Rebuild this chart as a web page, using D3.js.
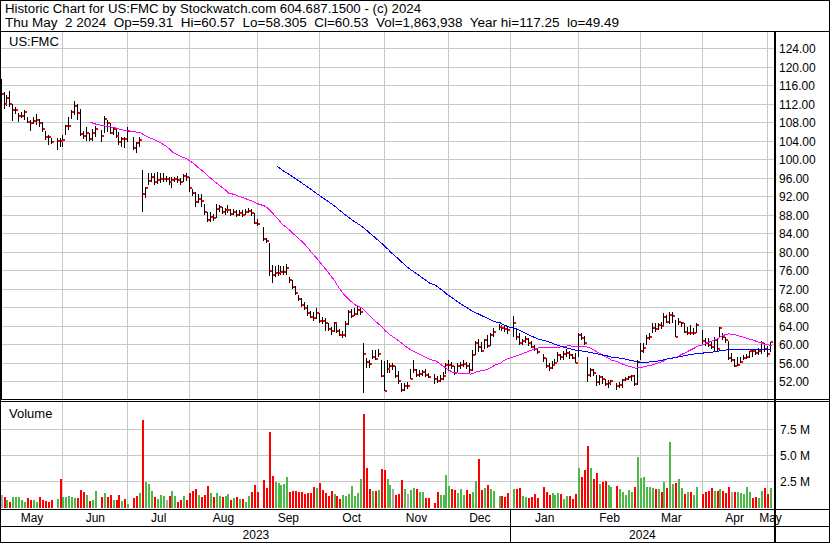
<!DOCTYPE html>
<html><head><meta charset="utf-8">
<script src="https://cdn.jsdelivr.net/npm/d3@7"></script>
<style>
html,body{margin:0;padding:0;background:#fff;}
svg{display:block;font-family:"Liberation Sans",Arial,sans-serif;}
</style></head><body>
<svg id="chart" width="830" height="543"></svg>
<script>
// ---------- DATA (one slot per weekday, null = market holiday) ----------
const firstDay = [2023, 4, 3];   // Wed May 3 2023
const lastDay  = [2024, 4, 2];   // Thu May 2 2024
const header1 = "Historic Chart for US:FMC by Stockwatch.com 604.687.1500 - (c) 2024";
const header2 = "Thu May  2 2024  Op=59.31  Hi=60.57  Lo=58.305  Cl=60.53  Vol=1,863,938  Year hi=117.25  lo=49.49";
const symbol = "US:FMC";
const priceTicks = [52,56,60,64,68,72,76,80,84,88,92,96,100,104,108,112,116,120,124];
const volTicks = [2.5,5.0,7.5];
const maShort = 30, maLong = 90;

const closes = [
114.0,111.8,113.3,111.8,110.5,110.5,109.4,109.4,110.1,108.1,
107.9,108.3,108.4,107.7,106.6,104.7,104.7,103.8,null,104.0,
104.0,104.1,107.1,107.1,110.1,111.5,109.9,105.4,105.0,105.7,
104.3,105.7,106.6,null,105.0,108.6,107.9,105.7,106.4,105.0,
103.7,104.3,104.3,106.1,null,102.5,103.4,104.1,92.5,93.7,
95.3,96.1,95.0,95.5,95.6,95.7,95.7,95.0,95.5,95.8,
95.5,95.0,96.4,96.2,93.8,92.7,90.8,91.4,91.0,88.5,
86.8,87.6,87.3,89.2,89.6,88.6,88.9,89.1,88.2,88.6,
88.0,88.4,88.0,88.6,88.8,88.3,86.3,86.0,null,82.7,
82.2,75.9,75.0,75.3,75.5,75.6,75.7,76.5,73.8,72.4,
71.0,69.7,68.4,67.9,66.8,65.9,65.6,66.8,65.1,65.0,
64.5,63.3,62.8,64.5,62.8,62.0,62.1,64.4,67.0,66.2,
66.6,67.3,67.0,57.9,56.1,55.7,57.3,56.9,58.0,53.1,
50.0,54.6,55.3,55.3,53.1,52.0,50.2,51.0,51.0,52.6,
54.5,53.4,53.6,54.0,53.4,53.0,null,52.6,52.0,52.5,
53.1,55.5,55.6,55.2,53.8,55.2,55.5,55.7,55.2,54.4,
57.7,60.2,59.4,58.6,60.9,59.6,62.0,62.7,null,63.7,
63.5,63.3,63.1,null,64.7,61.5,60.2,60.7,61.2,60.2,
59.5,59.0,58.3,null,57.0,55.2,54.8,55.5,56.0,57.7,
57.2,57.9,58.2,57.6,57.1,56.0,62.1,61.3,60.3,53.4,
54.4,53.7,51.9,53.0,52.6,51.5,51.7,52.0,null,50.9,
51.2,52.3,52.6,52.9,53.1,51.4,56.2,58.6,59.3,61.3,
61.6,63.5,63.3,64.2,64.0,65.8,64.9,66.3,66.0,61.6,
64.9,64.5,62.7,62.4,62.5,62.5,64.2,null,60.6,60.2,
59.9,59.4,60.9,58.9,63.5,61.6,60.9,57.0,56.6,55.3,
55.5,56.2,57.0,57.3,58.5,58.5,58.2,58.6,60.2,59.0,
57.9,60.53];

const highs = [
117.25,114.6,113.8,114.8,112.0,111.2,109.9,110.2,110.6,109.2,
108.5,109.0,109.7,108.6,108.1,106.0,105.2,104.6,null,104.5,
104.5,105.2,107.4,109.2,110.6,112.5,112.0,110.8,106.0,106.9,
105.6,106.4,107.1,null,106.3,109.4,108.4,107.9,107.0,106.6,
105.9,104.8,104.8,107.0,null,104.8,103.8,104.8,97.6,94.0,
96.9,96.9,96.9,97.3,97.0,96.9,96.3,96.2,96.2,96.2,
96.4,95.9,96.8,97.0,96.2,93.5,93.0,92.5,92.5,90.4,
88.5,88.5,88.2,90.4,90.0,89.6,89.5,90.0,89.3,89.2,
88.9,89.0,88.9,89.2,89.4,89.2,88.3,87.0,null,85.4,
83.0,81.8,77.1,76.8,77.1,76.8,77.0,77.4,74.5,73.8,
72.5,70.6,70.0,69.1,68.4,67.2,66.9,67.8,66.7,65.8,
65.6,64.6,63.8,64.8,64.9,63.2,62.8,65.0,67.5,67.6,
67.8,68.2,67.9,60.2,57.0,56.6,58.8,58.8,59.0,56.6,
56.3,56.6,56.0,56.0,55.3,54.3,51.7,51.6,51.8,54.6,
56.6,54.6,54.4,54.4,54.6,53.8,null,53.6,53.2,53.3,
54.1,55.9,56.6,56.2,55.4,56.0,56.2,56.6,56.2,56.0,
58.8,60.6,61.2,60.4,61.2,62.0,62.4,63.6,null,64.4,
64.2,64.0,63.9,null,66.0,63.4,62.4,61.2,61.8,61.4,
60.6,59.8,59.3,null,57.9,57.0,55.9,56.3,56.8,58.3,
58.0,58.6,58.9,58.6,58.0,58.1,62.5,62.5,61.7,57.3,
54.8,54.6,53.4,53.4,53.1,52.6,52.3,52.3,null,51.6,
51.8,52.6,53.0,53.2,53.4,53.4,56.6,60.2,60.2,62.0,
62.4,64.5,64.7,64.5,64.9,66.7,66.3,67.0,67.0,65.3,
65.6,64.9,64.5,63.8,64.2,63.5,64.5,null,63.1,61.3,
61.3,60.6,61.6,61.3,63.8,62.4,61.6,60.6,58.1,56.8,
57.3,57.3,57.7,58.0,58.5,58.8,58.9,59.3,60.6,60.2,
59.6,60.57];

const lows = [
0,110.8,111.5,111.3,108.3,109.8,108.1,108.9,108.4,107.7,
106.1,107.6,107.3,107.0,105.9,104.2,103.0,103.2,null,102.0,
102.6,102.6,105.2,106.3,108.6,109.5,108.5,104.9,104.3,104.0,
104.0,104.0,104.8,null,103.8,105.6,105.9,105.4,105.2,104.6,
103.0,102.6,102.3,103.8,null,102.0,101.3,102.6,88.6,91.5,
94.4,95.0,94.4,94.7,94.9,95.1,95.0,94.5,93.7,95.0,
94.9,94.5,95.0,95.3,93.0,92.0,89.6,90.5,89.7,88.0,
86.4,86.5,86.6,87.3,88.6,88.1,88.0,88.4,87.7,88.0,
87.6,87.8,87.5,88.0,88.3,87.8,85.9,85.6,null,82.2,
81.8,74.7,73.2,74.6,74.8,75.0,74.9,74.9,73.3,72.0,
70.7,69.3,68.0,67.5,66.1,65.7,65.0,65.5,64.5,64.4,
62.9,62.9,62.1,62.6,62.5,61.7,61.3,61.6,64.2,65.6,
66.0,66.4,66.3,49.49,54.9,54.8,56.8,56.7,57.2,52.9,
49.8,53.7,53.7,54.5,52.8,51.4,49.6,49.8,50.4,52.4,
53.7,53.0,53.0,53.1,52.9,52.7,null,51.5,51.6,51.8,
52.3,53.6,54.3,54.6,53.3,53.9,54.7,55.0,54.7,53.8,
54.2,57.6,58.3,58.3,59.0,59.2,59.6,61.6,null,63.0,
62.9,62.7,62.2,null,61.6,61.0,59.9,59.9,60.3,59.7,
59.2,58.5,58.0,null,56.2,54.9,54.2,54.6,55.4,56.2,
56.6,56.7,57.3,56.8,56.8,55.9,57.3,60.9,59.9,51.9,
53.0,53.2,50.9,51.2,51.5,50.9,50.5,51.2,null,50.2,
50.6,50.5,52.0,52.2,52.0,50.9,51.2,56.5,58.1,59.9,
60.9,62.4,62.7,63.1,63.4,63.8,64.5,64.3,64.7,61.6,
64.2,63.8,62.4,62.0,62.0,62.0,62.4,null,59.9,59.6,
59.5,58.9,58.5,58.5,61.6,61.0,60.2,56.6,56.2,55.1,
55.3,55.9,56.6,56.8,57.0,57.3,57.6,57.7,57.9,58.3,
57.3,58.305];

// volume in millions
const volumes = [
1.15,0.99,0.67,0.51,0.99,0.92,0.96,0.67,0.51,0.83,
0.67,0.67,0.51,0.92,0.67,0.57,0.51,0.67,null,0.73,
2.67,0.92,0.99,1.05,0.96,0.89,0.89,1.62,1.43,1.15,
0.57,0.67,1.53,null,0.92,1.34,0.92,1.15,0.67,0.67,
1.15,0.57,0.73,0.29,null,0.86,1.05,1.34,8.31,2.39,
2.20,1.53,0.92,0.73,1.12,1.05,0.67,1.05,1.53,1.05,
0.48,0.67,1.05,0.67,1.34,1.53,1.72,1.15,0.96,1.15,
2.01,1.34,0.92,1.34,1.08,0.96,1.05,1.24,0.67,0.86,
0.96,0.80,0.80,0.51,1.05,1.43,2.10,1.46,null,2.58,
1.81,7.16,2.96,2.39,2.29,2.10,2.20,2.87,1.43,1.53,
1.53,1.43,1.43,1.24,1.34,1.34,1.92,1.82,2.29,1.62,
1.34,1.05,1.53,1.24,1.05,0.76,1.15,1.05,1.24,2.01,
1.05,1.30,2.67,8.88,3.72,1.72,1.53,1.53,1.62,3.63,
3.53,2.67,2.06,1.72,1.15,1.24,2.58,1.72,1.24,1.62,
1.81,1.72,1.43,1.43,0.86,0.86,null,0.38,1.43,1.15,
1.15,3.06,2.01,1.72,1.62,1.34,1.72,1.15,1.62,1.24,
1.43,2.48,4.58,1.62,1.81,2.10,1.72,1.53,null,1.05,
1.05,0.96,1.34,null,1.72,1.72,1.81,1.05,0.96,0.86,
0.96,1.24,0.86,null,1.92,1.43,1.15,1.34,1.15,1.34,
1.24,0.76,1.05,1.05,0.76,1.24,3.72,2.86,3.53,5.83,
3.72,2.67,3.25,2.20,2.39,2.48,2.10,1.92,null,2.01,
1.72,1.43,1.15,1.62,1.43,1.92,4.78,2.77,2.86,1.92,
1.92,1.82,1.72,1.72,1.43,2.39,1.82,6.21,2.20,2.29,
2.67,1.82,1.24,1.43,1.43,1.15,1.92,null,1.24,1.43,
1.53,1.82,1.53,1.53,1.72,1.53,1.34,1.92,1.43,1.43,
1.43,1.34,1.24,1.92,1.43,0.86,0.92,0.86,1.53,1.82,
1.24,1.86];

// volume bar direction: 1 up, -1 down, 0 unchanged
const volDir = [
0,-1,1,-1,1,1,1,1,1,-1,
-1,1,1,-1,-1,-1,-1,-1,null,1,
-1,1,1,1,1,1,-1,-1,-1,1,
-1,1,1,null,-1,1,-1,-1,1,-1,
-1,1,-1,1,null,-1,-1,1,-1,1,
1,1,-1,1,1,1,0,-1,1,1,
-1,-1,1,-1,-1,-1,-1,1,-1,-1,
-1,1,-1,1,1,-1,1,1,-1,1,
-1,1,-1,1,1,-1,-1,-1,null,-1,
-1,-1,-1,1,1,1,1,1,-1,-1,
-1,-1,-1,-1,-1,-1,-1,1,-1,-1,
-1,-1,-1,1,-1,-1,1,1,1,1,
1,1,1,-1,-1,-1,1,-1,1,-1,
-1,1,1,0,-1,-1,-1,1,0,1,
1,-1,1,1,-1,-1,null,-1,-1,1,
1,1,1,-1,-1,1,1,1,-1,-1,
1,1,-1,-1,1,-1,1,1,null,1,
-1,-1,-1,null,1,-1,-1,1,1,-1,
-1,-1,-1,null,-1,-1,-1,1,1,1,
-1,1,1,-1,-1,-1,1,-1,-1,-1,
1,-1,-1,1,-1,-1,1,1,null,-1,
1,1,1,1,1,-1,1,1,1,1,
1,1,-1,1,-1,1,-1,1,1,-1,
1,1,-1,1,-1,1,1,null,-1,-1,
-1,-1,1,-1,1,-1,-1,-1,0,-1,
1,1,1,1,1,-1,-1,1,1,-1,
-1,1];

// ---------- CHART ----------
const svg = d3.select("#chart");
const W = 830, H = 543;
const plotR = 774;
const priceTop = 32, priceBot = 399, volTop = 402, volBot = 509;
const gridC = "#c8c8c8";

const days = d3.timeDay.range(new Date(...firstDay), d3.timeDay.offset(new Date(...lastDay), 1))
  .filter(d => d.getDay() !== 0 && d.getDay() !== 6);
const n = days.length;

const x = d3.scaleLinear().domain([0, n]).range([1.1, 773]);
const yP = d3.scaleLinear().domain([52, 124]).range([381.3, 48]);
const yV = d3.scaleLinear().domain([0, 7.5]).range([507, 428.5]);
const px = i => Math.floor(x(i));

svg.append("rect").attr("width", W).attr("height", H).attr("fill", "#fff");

const monthStarts = [];
days.forEach((d, i) => { if (i === 0 || d.getMonth() !== days[i-1].getMonth()) monthStarts.push(i); });
const yearStarts = [];
days.forEach((d, i) => { if (i === 0 || d.getFullYear() !== days[i-1].getFullYear()) yearStarts.push(i); });

const grid = svg.append("g").attr("stroke", gridC).attr("stroke-width", 1).attr("shape-rendering", "crispEdges");
priceTicks.forEach(t => {
  const yy = Math.round(yP(t)) + 0.5;
  grid.append("line").attr("x1", 1).attr("x2", plotR).attr("y1", yy).attr("y2", yy);
});
volTicks.forEach(t => {
  const yy = Math.round(yV(t)) + 0.5;
  grid.append("line").attr("x1", 1).attr("x2", plotR).attr("y1", yy).attr("y2", yy);
});
monthStarts.filter(i => i > 0).forEach(i => {
  const xx = px(i) + 0.5;
  grid.append("line").attr("x1", xx).attr("x2", xx).attr("y1", priceTop).attr("y2", priceBot);
  grid.append("line").attr("x1", xx).attr("x2", xx).attr("y1", volTop).attr("y2", volBot);
});

svg.append("clipPath").attr("id", "pclip").append("rect")
  .attr("x", 1).attr("y", priceTop).attr("width", plotR - 1).attr("height", priceBot - priceTop);

const idx = d3.range(n).filter(i => closes[i] != null);

const pg = svg.append("g").attr("clip-path", "url(#pclip)").attr("shape-rendering", "crispEdges");
pg.selectAll("line.hl").data(idx).join("line")
  .attr("x1", i => px(i) + 0.5).attr("x2", i => px(i) + 0.5)
  .attr("y1", i => yP(highs[i])).attr("y2", i => yP(lows[i]))
  .attr("stroke", "#000").attr("stroke-width", 1);
pg.selectAll("rect.cl").data(idx).join("rect")
  .attr("x", i => px(i) + 1).attr("y", i => Math.round(yP(closes[i])) - 1)
  .attr("width", 2).attr("height", 2).attr("fill", "#ff0000");

function sma(win) {
  const out = [];
  for (let k = win - 1; k < idx.length; k++) {
    const w = idx.slice(k - win + 1, k + 1).map(i => closes[i]);
    out.push({ i: idx[k], v: d3.mean(w) });
  }
  return out;
}
const line = d3.line().x(d => px(d.i) + 1.5).y(d => yP(d.v));
pg.append("path").datum(sma(maShort)).attr("d", line).attr("fill", "none")
  .attr("stroke", "#ff00ff").attr("stroke-width", 1);
pg.append("path").datum(sma(maLong)).attr("d", line).attr("fill", "none")
  .attr("stroke", "#0000ff").attr("stroke-width", 1);

const vidx = d3.range(n).filter(i => volumes[i] != null);
const vcol = d => d > 0 ? "#4cb848" : (d < 0 ? "#ff0000" : "#a8a8a8");
svg.append("g").attr("shape-rendering", "crispEdges").selectAll("rect").data(vidx).join("rect")
  .attr("x", i => px(i)).attr("width", 2)
  .attr("y", i => Math.round(yV(volumes[i])))
  .attr("height", i => volBot - 1 - Math.round(yV(volumes[i])))
  .attr("fill", i => vcol(volDir[i]));

const fr = svg.append("g").attr("stroke", "#000").attr("stroke-width", 1).attr("shape-rendering", "crispEdges");
fr.append("rect").attr("x", 0.5).attr("y", 0.5).attr("width", W - 1).attr("height", H - 1).attr("fill", "none");
[31.5, 399.5, 401.5, 509.5, 526.5].forEach(yy =>
  fr.append("line").attr("x1", 0).attr("x2", W).attr("y1", yy).attr("y2", yy));
yearStarts.filter(i => i > 0).forEach(i => {
  const xx = px(i) + 0.5;
  fr.append("line").attr("x1", xx).attr("x2", xx).attr("y1", volBot).attr("y2", H);
});
svg.append("rect").attr("x", plotR).attr("y", 31).attr("width", 2).attr("height", H - 31).attr("fill", "#000");

const txt = svg.append("g").attr("font-size", 12).attr("fill", "#000");
txt.append("text").attr("x", 5).attr("y", 12.5).attr("font-size", 12)
  .attr("textLength", 416).attr("lengthAdjust", "spacingAndGlyphs")
  .style("white-space", "pre").text(header1);
txt.append("text").attr("x", 5).attr("y", 26.5).attr("font-size", 12)
  .attr("textLength", 614).attr("lengthAdjust", "spacingAndGlyphs")
  .style("white-space", "pre").text(header2);
txt.append("text").attr("x", 9).attr("y", 46).attr("font-size", 13).text(symbol);
txt.append("text").attr("x", 9).attr("y", 418).attr("font-size", 13).text("Volume");

const f2 = d3.format(".2f"), f1 = d3.format(".1f");
priceTicks.forEach(t => txt.append("text").attr("x", 779).attr("y", Math.round(yP(t)) + 4.5).text(f2(t)));
volTicks.forEach(t => txt.append("text").attr("x", 780).attr("y", Math.round(yV(t)) + 4.5).text(f1(t) + " M"));

const fmtM = d3.timeFormat("%b");
monthStarts.forEach((s, k) => {
  const x0 = k === 0 ? 1 : x(s);
  const x1 = k + 1 < monthStarts.length ? x(monthStarts[k+1]) : plotR;
  txt.append("text").attr("x", (x0 + x1) / 2).attr("y", 522).attr("text-anchor", "middle").text(fmtM(days[s]));
});
yearStarts.forEach((s, k) => {
  const x0 = k === 0 ? 1 : x(s);
  const x1 = k + 1 < yearStarts.length ? x(yearStarts[k+1]) : plotR;
  txt.append("text").attr("x", (x0 + x1) / 2).attr("y", 539).attr("text-anchor", "middle").text(days[s].getFullYear());
});
</script>
</body></html>
